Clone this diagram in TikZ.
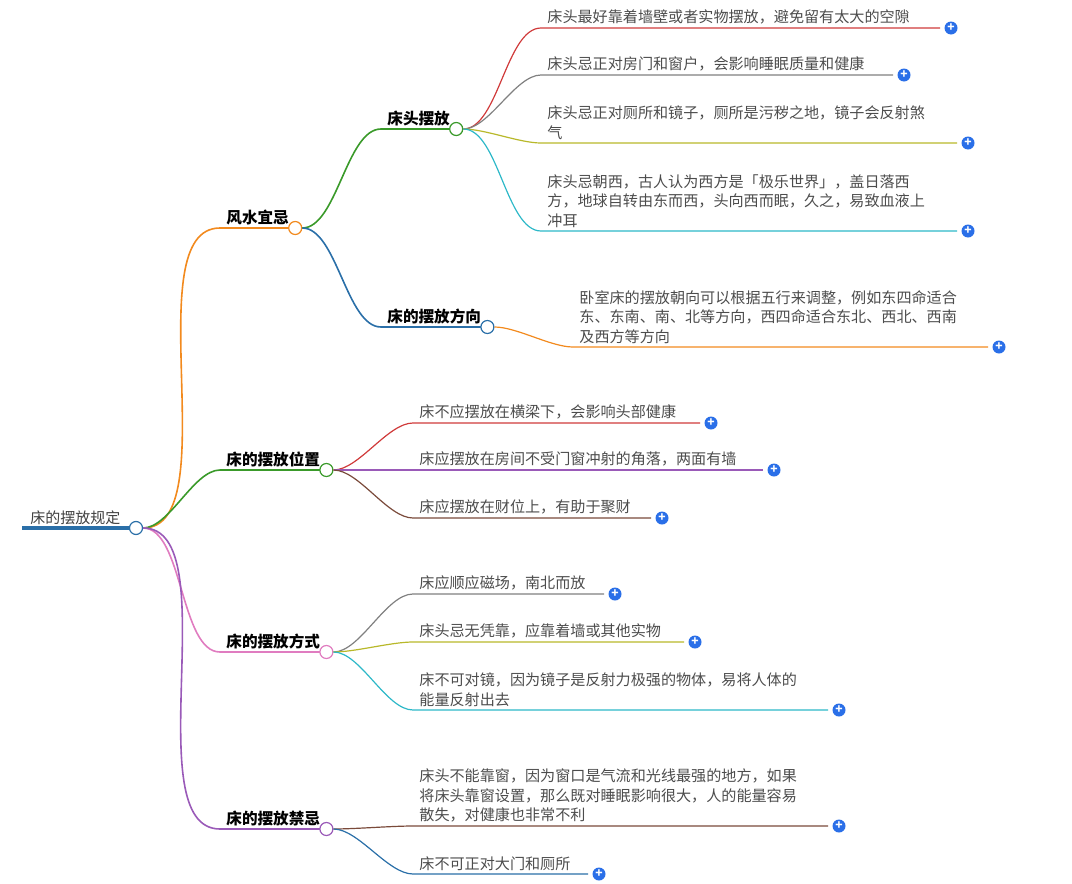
\documentclass[tikz,border=0pt]{standalone}
\usepackage{fontspec}
\setmainfont{Noto Sans CJK SC}
\usetikzlibrary{calc}
\definecolor{cRed}{HTML}{D03A3A}
\definecolor{cGray}{HTML}{808080}
\definecolor{cOlive}{HTML}{B8B82A}
\definecolor{cCyan}{HTML}{2DB8C8}
\definecolor{cOrange}{HTML}{F28A1E}
\definecolor{cGreen}{HTML}{3A9A2A}
\definecolor{cBlue}{HTML}{2A6FA8}
\definecolor{cPink}{HTML}{E07CC0}
\definecolor{cPurple}{HTML}{9A5AB8}
\definecolor{cBrown}{HTML}{7A4A3A}
\definecolor{cPlus}{HTML}{2A6FE8}
\begin{document}
\begin{tikzpicture}[x=0.5pt,y=-0.5pt,
    leaftext/.style={anchor=south west,inner sep=1pt,align=left,font=\fontsize{7.55}{9.8}\selectfont,text=black!70},
    hubtext/.style={anchor=south west,inner sep=1pt,font=\bfseries\fontsize{7.8}{9}\selectfont},
    knot/.style={circle,draw,fill=white,inner sep=0pt,minimum size=6.5pt,line width=0.6pt},
    plus/.style={circle,fill=cPlus,inner sep=0pt,minimum size=6.5pt,text=white,font=\bfseries\fontsize{6}{6}\selectfont},
    branch/.style={line width=0.8pt},
    swoop/.style={out=0,in=180,looseness=0.7}]
  \useasboundingbox (0,0) rectangle (1072,884);
  % leaf: colour, start circle, x, line y, end x, text
  \newcommand{\leaf}[7]{%
    \node[leaftext] (#1t) at (#4,#5-1) {#7};
    \coordinate (#1s) at (#4-4,#5);
    \coordinate (#1e) at (#6,#5);
    \node[plus] (#1p) at (#6+11,#5) {+};
    \draw[#2,line width=0.6pt] (#3) to[swoop] (#1s) -- (#1e);}
  % root
  \node[anchor=south west,inner sep=1pt,font=\fontsize{7.5}{9}\selectfont,text=black!75] (root) at (28,527) {床的摆放规定};
  \draw[cBlue,line width=2pt] (22,528) -- (130,528);
  \node[knot,draw=cBlue] (rootk) at (136,528) {};
  % hubs
  \newcommand{\hub}[6]{%
    \node[hubtext] (#1) at (#4,#5-1) {#6};
    \coordinate (#1s) at (#4-4,#5);
    \draw[#2,branch] (#3) to[swoop] (#1s) -- ($(#1.south east)+(0,1)$);
    \node[knot,draw=#2] (#1k) at ($(#1.south east)+(4,1)$) {};}
  \hub{fs}{cOrange}{rootk}{224}{228}{风水宜忌}
  \hub{wz}{cGreen}{rootk}{224}{470}{床的摆放位置}
  \hub{fa}{cPink}{rootk}{224}{652}{床的摆放方式}
  \hub{jj}{cPurple}{rootk}{224}{829}{床的摆放禁忌}
  \hub{ct}{cGreen}{fsk}{385}{129}{床头摆放}
  \hub{fx}{cBlue}{fsk}{385}{327}{床的摆放方向}
  % leaves
  \leaf{a}{cRed}{ctk}{545}{28}{940}{床头最好靠着墙壁或者实物摆放，避免留有太大的空隙}
  \leaf{b}{cGray}{ctk}{545}{75}{893}{床头忌正对房门和窗户，会影响睡眠质量和健康}
  \leaf{c}{cOlive}{ctk}{545}{143}{957}{床头忌正对厕所和镜子，厕所是污秽之地，镜子会反射煞\\气}
  \leaf{d}{cCyan}{ctk}{545}{231}{957}{床头忌朝西，古人认为西方是「极乐世界」，盖日落西\\方，地球自转由东而西，头向西而眠，久之，易致血液上\\冲耳}
  \leaf{e}{cOrange}{fxk}{577}{347}{988}{卧室床的摆放朝向可以根据五行来调整，例如东四命适合\\东、东南、南、北等方向，西四命适合东北、西北、西南\\及西方等方向}
  \leaf{f}{cRed}{wzk}{417}{423}{700}{床不应摆放在横梁下，会影响头部健康}
  \leaf{g}{cPurple}{wzk}{417}{470}{763}{床应摆放在房间不受门窗冲射的角落，两面有墙}
  \leaf{h}{cBrown}{wzk}{417}{518}{651}{床应摆放在财位上，有助于聚财}
  \leaf{i}{cGray}{fak}{417}{594}{604}{床应顺应磁场，南北而放}
  \leaf{j}{cOlive}{fak}{417}{642}{684}{床头忌无凭靠，应靠着墙或其他实物}
  \leaf{k}{cCyan}{fak}{417}{710}{828}{床不可对镜，因为镜子是反射力极强的物体，易将人体的\\能量反射出去}
  \leaf{l}{cBrown}{jjk}{417}{826}{828}{床头不能靠窗，因为窗口是气流和光线最强的地方，如果\\将床头靠窗设置，那么既对睡眠影响很大，人的能量容易\\散失，对健康也非常不利}
  \leaf{m}{cBlue}{jjk}{417}{874}{588}{床不可正对大门和厕所}
\end{tikzpicture}
\end{document}
